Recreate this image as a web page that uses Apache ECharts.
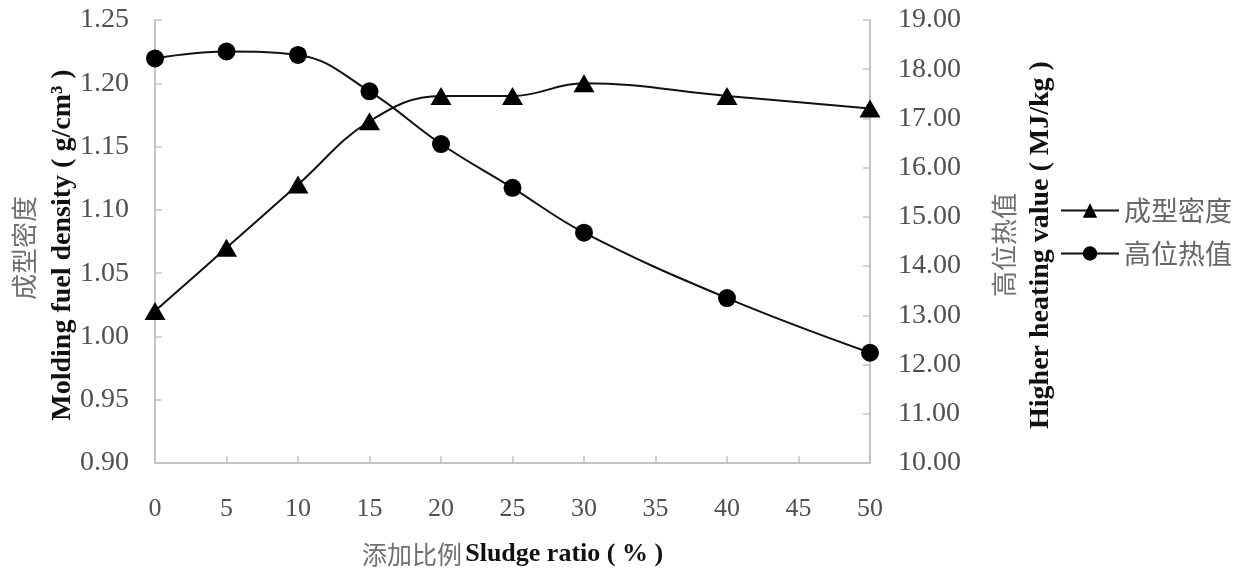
<!DOCTYPE html>
<html>
<head>
<meta charset="utf-8">
<script src="https://cdn.jsdelivr.net/npm/echarts@6/dist/echarts.min.js"></script>
<style>html,body{margin:0;padding:0;background:#fff;overflow:hidden;width:100%;height:100%}#c{width:100vw;height:100vh}</style>
</head>
<body>
<div id="c"></div>
<script>
const categories = [0, 5, 10, 15, 20, 25, 30, 40, 50];
const densityValues = [1.02, 1.07, 1.12, 1.17, 1.19, 1.19, 1.20, 1.19, 1.18];
const heatingValues = [18.22, 18.36, 18.29, 17.55, 16.48, 15.59, 14.68, 13.35, 12.24];
const seriesNames = ['成型密度', '高位热值'];

const FONT = "'Liberation Serif', 'Noto Sans CJK SC', serif";
const CJK = "'Noto Sans CJK SC', sans-serif";
const axisGray = '#c4c4c4';
const labelGray = '#505050';

const chart = echarts.init(document.getElementById('c'));
chart.setOption({
  animation: false,
  backgroundColor: '#fff',
  grid: { left: 155, width: 715, top: 20, height: 447, containLabel: false },
  legend: {
    orient: 'vertical',
    left: 1060,
    top: 197,
    padding: 0,
    itemWidth: 58,
    itemHeight: 18,
    itemGap: 16,
    data: seriesNames,
    textStyle: { fontFamily: CJK, fontSize: 27, color: '#666', padding: [0, 0, 0, 0] }
  },
  xAxis: {
    type: 'value',
    min: 0, max: 50, interval: 5,
    name: '{cn|添加比例} {en|Sludge ratio ( % )}',
    nameLocation: 'middle',
    nameGap: 78,
    nameTextStyle: {
      rich: {
        cn: { fontFamily: CJK, fontSize: 25, color: '#707070' },
        en: { fontFamily: FONT, fontSize: 26, fontWeight: 'bold', color: '#111' }
      }
    },
    axisLine: { show: true, lineStyle: { color: axisGray, width: 2 } },
    axisTick: { show: true, inside: true, length: 7, lineStyle: { color: axisGray, width: 1.5 } },
    axisLabel: { fontFamily: FONT, fontSize: 26, color: labelGray, margin: 33 },
    splitLine: { show: false }
  },
  yAxis: [
    {
      type: 'value', min: 0.90, max: 1.25, interval: 0.05,
      axisLine: { show: true, lineStyle: { color: axisGray, width: 2 } },
      axisTick: { show: true, inside: true, length: 7, lineStyle: { color: axisGray, width: 1.5 } },
      axisLabel: { fontFamily: FONT, fontSize: 28, color: labelGray, margin: 26, formatter: v => v.toFixed(2) },
      splitLine: { show: false }
    },
    {
      type: 'value', min: 10, max: 19, interval: 1,
      position: 'right',
      axisLine: { show: true, lineStyle: { color: axisGray, width: 2 } },
      axisTick: { show: true, inside: true, length: 7, lineStyle: { color: axisGray, width: 1.5 } },
      axisLabel: { fontFamily: FONT, fontSize: 28, color: labelGray, margin: 28, formatter: v => v.toFixed(2) },
      splitLine: { show: false }
    }
  ],
  graphic: [
    { type: 'text', x: 24, y: 248, rotation: Math.PI / 2,
      style: { text: '成型密度', fontFamily: CJK, fontSize: 26, fill: '#707070', align: 'center', verticalAlign: 'middle' } },
    { type: 'text', x: 63, y: 245, rotation: Math.PI / 2,
      style: { text: 'Molding fuel density ( g/cm³ )', fontFamily: FONT, fontSize: 28, fontWeight: 'bold', fill: '#111', align: 'center', verticalAlign: 'middle' } },
    { type: 'text', x: 1004, y: 245, rotation: Math.PI / 2,
      style: { text: '高位热值', fontFamily: CJK, fontSize: 26, fill: '#707070', align: 'center', verticalAlign: 'middle' } },
    { type: 'text', x: 1041, y: 245, rotation: Math.PI / 2,
      style: { text: 'Higher heating value ( MJ/kg )', fontFamily: FONT, fontSize: 28, fontWeight: 'bold', fill: '#111', align: 'center', verticalAlign: 'middle' } }
  ],
  series: [
    {
      name: seriesNames[0], type: 'line', yAxisIndex: 0, smooth: 0.4,
      data: categories.map((c, i) => [c, densityValues[i]]),
      symbol: 'triangle', symbolSize: [21, 18],
      lineStyle: { color: '#111', width: 2 },
      itemStyle: { color: '#000' }
    },
    {
      name: seriesNames[1], type: 'line', yAxisIndex: 1, smooth: 0.4,
      data: categories.map((c, i) => [c, heatingValues[i]]),
      symbol: 'circle', symbolSize: 18,
      lineStyle: { color: '#111', width: 2 },
      itemStyle: { color: '#000' }
    }
  ]
});
</script>
</body>
</html>
